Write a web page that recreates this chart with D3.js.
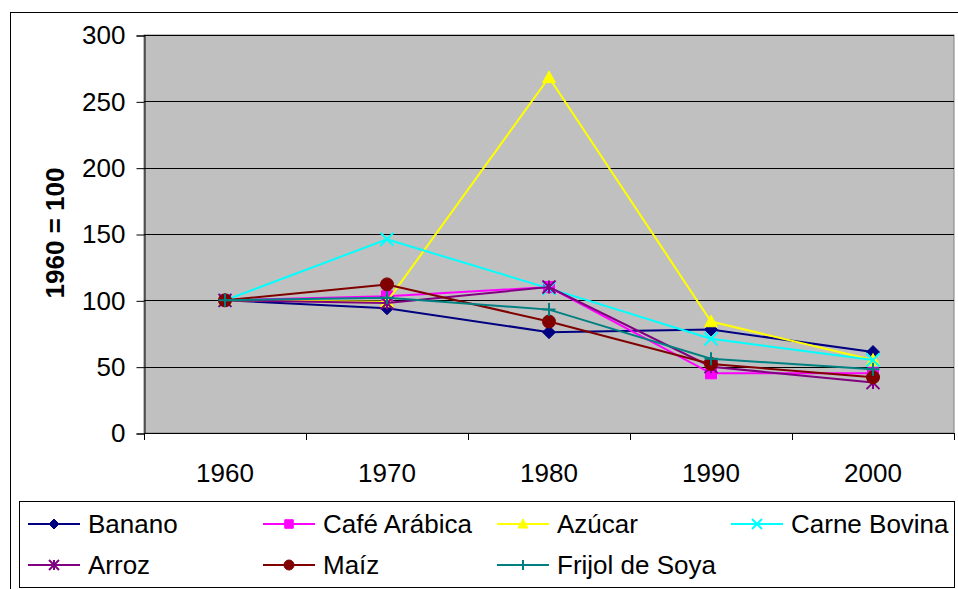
<!DOCTYPE html>
<html>
<head>
<meta charset="utf-8">
<script src="https://cdn.jsdelivr.net/npm/d3@7"></script>
<style>
  body { margin: 0; background: #fff; }
  svg { display: block; font-family: "Liberation Sans", Arial, sans-serif; }
</style>
</head>
<body>
<svg width="958" height="589"></svg>
<script>
const years = ['1960', '1970', '1980', '1990', '2000'];
const yTicks = [0, 50, 100, 150, 200, 250, 300];
const seriesNames = ['Banano', 'Café Arábica', 'Azúcar', 'Carne Bovina', 'Arroz', 'Maíz', 'Frijol de Soya'];
const banano = [100, 94, 76, 78, 61];
const cafe = [100, 103, 110, 45, 45];
const azucar = [100, 99, 268, 84, 55];
const carne = [100, 146, 109, 71, 55];
const arroz = [100, 98, 110, 50, 38];
const maiz = [100, 112, 84, 52, 42];
const soya = [100, 102, 93, 56, 48];

const colors = ['#000080', '#FF00FF', '#FFFF00', '#00FFFF', '#800080', '#800000', '#008080'];
const symbols = ['diamond', 'square', 'triangle', 'x', 'star', 'circle', 'plus'];
const allValues = [banano, cafe, azucar, carne, arroz, maiz, soya];

const svg = d3.select('svg');
const plotL = 144, plotR = 954, plotT = 35, plotB = 433;
const fontSize = 26;

// outer chart border
svg.append('rect')
  .attr('x', 10.5).attr('y', 12.5)
  .attr('width', 970).attr('height', 600)
  .attr('fill', 'none').attr('stroke', '#000');

const x = d3.scaleBand().domain(years).range([plotL, plotR]);
const y = d3.scaleLinear().domain([0, 300]).range([plotB, plotT]);

// plot area
svg.append('rect')
  .attr('x', plotL).attr('y', plotT)
  .attr('width', plotR - plotL).attr('height', plotB - plotT)
  .attr('fill', '#C0C0C0').attr('stroke', '#808080');

svg.append('g')
  .selectAll('line')
  .data(yTicks.slice(1))
  .enter()
  .append('line')
  .attr('x1', plotL).attr('x2', plotR)
  .attr('y1', d => Math.round(y(d)) + 0.5)
  .attr('y2', d => Math.round(y(d)) + 0.5)
  .attr('stroke', '#000');

// y axis
const yAxis = d3.axisLeft(y).tickValues(yTicks).tickSize(8).tickPadding(11);
const gy = svg.append('g')
  .attr('transform', `translate(${plotL + 0.5},0.5)`)
  .call(yAxis);
gy.selectAll('text').attr('font-size', fontSize).attr('fill', '#000').attr('font-family', '"Liberation Sans", Arial, sans-serif');
gy.select('.domain').attr('stroke', '#000');

// x axis
const xTickPos = years.map(d => x(d)).concat([plotR]);
svg.append('line')
  .attr('x1', plotL).attr('x2', plotR)
  .attr('y1', plotB + 0.5).attr('y2', plotB + 0.5)
  .attr('stroke', '#000');
svg.append('g')
  .selectAll('line')
  .data(xTickPos)
  .enter()
  .append('line')
  .attr('x1', d => Math.round(d) + 0.5).attr('x2', d => Math.round(d) + 0.5)
  .attr('y1', plotB).attr('y2', plotB + 7)
  .attr('stroke', '#000');
svg.append('g')
  .selectAll('text')
  .data(years)
  .enter()
  .append('text')
  .attr('x', d => x(d) + x.bandwidth() / 2)
  .attr('y', 482)
  .attr('text-anchor', 'middle')
  .attr('font-size', fontSize)
  .text(d => d);

// y title
svg.append('text')
  .attr('transform', 'translate(64,233) rotate(-90)')
  .attr('text-anchor', 'middle')
  .attr('font-size', fontSize)
  .attr('font-weight', 'bold')
  .text('1960 = 100');

function markerPath(type, s) {
  const h = s / 2;
  switch (type) {
    case 'diamond': return `M0,${-h}L${h},0L0,${h}L${-h},0Z`;
    case 'square': return `M${-h * 0.85},${-h * 0.85}H${h * 0.85}V${h * 0.85}H${-h * 0.85}Z`;
    case 'triangle': return `M0,${-h}L${h},${h * 0.8}L${-h},${h * 0.8}Z`;
    case 'x': return `M${-h},${-h}L${h},${h}M${h},${-h}L${-h},${h}`;
    case 'star': return `M${-h},${-h}L${h},${h}M${h},${-h}L${-h},${h}M0,${-h}V${h}`;
    case 'plus': return `M${-h},0H${h}M0,${-h}V${h}`;
    case 'circle': return `M${h},0A${h},${h} 0 1,1 ${-h},0A${h},${h} 0 1,1 ${h},0Z`;
  }
}
const filled = t => t === 'diamond' || t === 'square' || t === 'triangle' || t === 'circle';

function drawMarker(g, type, color, s) {
  g.append('path')
    .attr('d', markerPath(type, s))
    .attr('fill', filled(type) ? color : 'none')
    .attr('stroke', color)
    .attr('stroke-width', filled(type) ? 1 : 2);
}

const line = d3.line()
  .x((d, i) => x(years[i]) + x.bandwidth() / 2)
  .y(d => y(d));

allValues.forEach((vals, si) => {
  const g = svg.append('g');
  g.append('path')
    .attr('d', line(vals))
    .attr('fill', 'none')
    .attr('stroke', colors[si])
    .attr('stroke-width', 2);
  vals.forEach((v, i) => {
    const m = g.append('g')
      .attr('transform', `translate(${x(years[i]) + x.bandwidth() / 2},${y(v)})`);
    drawMarker(m, symbols[si], colors[si], 13);
  });
});

// legend
svg.append('rect')
  .attr('x', 19.5).attr('y', 501.5)
  .attr('width', 935).attr('height', 86)
  .attr('fill', '#fff').attr('stroke', '#000');

const legendX = [28, 263, 497, 731];
const legendY = [524, 565];
seriesNames.forEach((name, i) => {
  const lx = legendX[i % 4];
  const ly = legendY[Math.floor(i / 4)];
  const g = svg.append('g');
  g.append('line')
    .attr('x1', lx).attr('x2', lx + 52)
    .attr('y1', ly).attr('y2', ly)
    .attr('stroke', colors[i]).attr('stroke-width', 2);
  const m = g.append('g').attr('transform', `translate(${lx + 26},${ly})`);
  drawMarker(m, symbols[i], colors[i], 10);
  g.append('text')
    .attr('x', lx + 60)
    .attr('y', ly + 9)
    .attr('font-size', fontSize)
    .text(name);
});
</script>
</body>
</html>
